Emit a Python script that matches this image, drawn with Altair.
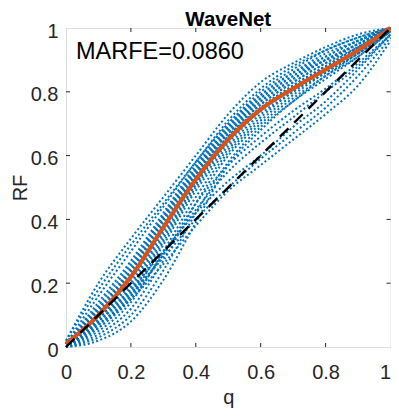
import altair as alt
import pandas as pd

# ---------------- data ----------------
q_grid = [0.0, 0.1, 0.2, 0.3, 0.4, 0.5, 0.6, 0.7, 0.8, 0.9, 1.0]

blue_curves = [
    [0.02, 0.20, 0.34, 0.47, 0.60, 0.73, 0.83, 0.89, 0.94, 0.98, 1.00],
    [0.02, 0.18, 0.32, 0.45, 0.58, 0.71, 0.81, 0.88, 0.93, 0.97, 1.00],
    [0.01, 0.16, 0.30, 0.44, 0.58, 0.70, 0.80, 0.87, 0.93, 0.97, 1.00],
    [0.01, 0.14, 0.27, 0.42, 0.57, 0.70, 0.79, 0.86, 0.92, 0.96, 1.00],
    [0.01, 0.13, 0.26, 0.41, 0.56, 0.69, 0.79, 0.86, 0.91, 0.96, 1.00],
    [0.01, 0.12, 0.25, 0.41, 0.56, 0.69, 0.78, 0.85, 0.91, 0.96, 1.00],
    [0.01, 0.12, 0.24, 0.40, 0.55, 0.68, 0.78, 0.85, 0.90, 0.95, 1.00],
    [0.01, 0.11, 0.24, 0.40, 0.55, 0.68, 0.77, 0.84, 0.90, 0.95, 1.00],
    [0.01, 0.11, 0.23, 0.39, 0.54, 0.67, 0.77, 0.84, 0.90, 0.95, 1.00],
    [0.01, 0.10, 0.22, 0.38, 0.54, 0.67, 0.76, 0.83, 0.89, 0.95, 1.00],
    [0.01, 0.10, 0.22, 0.38, 0.53, 0.66, 0.76, 0.83, 0.89, 0.94, 1.00],
    [0.00, 0.09, 0.21, 0.37, 0.53, 0.66, 0.75, 0.82, 0.88, 0.94, 1.00],
    [0.00, 0.09, 0.20, 0.36, 0.52, 0.65, 0.75, 0.82, 0.88, 0.94, 1.00],
    [0.00, 0.08, 0.19, 0.35, 0.51, 0.65, 0.74, 0.81, 0.88, 0.93, 0.99],
    [0.00, 0.08, 0.18, 0.34, 0.51, 0.64, 0.74, 0.81, 0.87, 0.93, 0.99],
    [0.00, 0.07, 0.17, 0.33, 0.50, 0.63, 0.73, 0.80, 0.87, 0.93, 0.99],
    [0.00, 0.06, 0.16, 0.32, 0.49, 0.62, 0.72, 0.80, 0.86, 0.92, 0.99],
    [0.00, 0.05, 0.14, 0.30, 0.47, 0.61, 0.71, 0.79, 0.86, 0.92, 0.99],
    [0.00, 0.04, 0.12, 0.27, 0.45, 0.60, 0.70, 0.78, 0.85, 0.92, 0.99],
    [0.00, 0.03, 0.10, 0.24, 0.42, 0.58, 0.69, 0.77, 0.85, 0.91, 0.99],
    [0.00, 0.02, 0.08, 0.21, 0.39, 0.57, 0.68, 0.77, 0.84, 0.91, 0.99],
    [0.00, 0.06, 0.15, 0.29, 0.45, 0.57, 0.66, 0.74, 0.81, 0.89, 0.98],
    [0.00, 0.07, 0.16, 0.29, 0.43, 0.55, 0.64, 0.72, 0.80, 0.88, 0.98],
    [0.00, 0.09, 0.18, 0.30, 0.42, 0.52, 0.60, 0.69, 0.77, 0.87, 0.98],
    [0.00, 0.08, 0.17, 0.28, 0.40, 0.50, 0.59, 0.67, 0.75, 0.85, 0.97],
    [0.00, 0.07, 0.15, 0.26, 0.38, 0.49, 0.57, 0.65, 0.73, 0.82, 0.96],
]

mean_rf = [0.01, 0.10, 0.22, 0.375, 0.525, 0.65, 0.745, 0.81, 0.87, 0.93, 1.00]

diag_q = [0.0, 1.0]
diag_rf = [0.0, 1.0]

axis_ticks = [0, 0.2, 0.4, 0.6, 0.8, 1]
inner_ticks = [0.2, 0.4, 0.6, 0.8]

title_text = "WaveNet"
x_title = "q"
y_title = "RF"
annot_text = "MARFE=0.0860"

# ---------------- tables ----------------
blue_df = pd.DataFrame(
    [{"curve": i, "q": q, "rf": r} for i, c in enumerate(blue_curves) for q, r in zip(q_grid, c)]
)
mean_df = pd.DataFrame({"q": q_grid, "rf": mean_rf})
diag_df = pd.DataFrame({"q": diag_q, "rf": diag_rf})
tick_df = pd.DataFrame({"v": inner_ticks})

W, H = 324.5, 319
FONT = "Liberation Sans"
AX = "#262626"

xs = alt.Scale(domain=[0, 1], nice=False, zero=False)
ys = alt.Scale(domain=[0, 1], nice=False, zero=False)

x_axis = alt.Axis(
    values=axis_ticks, format="~g", title=x_title, grid=False, domain=False,
    ticks=False, tickSize=0, labelPadding=31, labelBaseline="alphabetic",
    labelAlign=alt.ExprRef(expr="datum.value == 1 ? 'right' : 'center'"),
    labelFont=FONT, labelFontSize=20, labelColor=AX,
    titleFont=FONT, titleFontSize=20, titleFontWeight="normal", titleColor=AX,
    titleX=W / 2, titleY=56, titleBaseline="alphabetic", titleAlign="center",
)
y_axis = alt.Axis(
    values=axis_ticks, format="~g", title=y_title, grid=False, domain=False,
    ticks=False, tickSize=0, labelPadding=8, labelBaseline="alphabetic", labelOffset=9,
    labelFont=FONT, labelFontSize=20, labelColor=AX,
    titleFont=FONT, titleFontSize=20, titleFontWeight="normal", titleColor=AX,
    titleX=-39.5, titleY=H / 2, titleAngle=270, titleBaseline="alphabetic", titleAlign="center",
)


def X(field):
    return alt.X(field, scale=xs, axis=x_axis, title=x_title)


def Y(field):
    return alt.Y(field, scale=ys, axis=y_axis, title=y_title)


blue = alt.Chart(blue_df).mark_line(
    color="#0072BD", strokeWidth=2, strokeDash=[2, 2.4], interpolate="monotone"
).encode(x=X("q:Q"), y=Y("rf:Q"), detail="curve:N")

mean_line = alt.Chart(mean_df).mark_line(
    color="#D95319", strokeWidth=4.2, interpolate="monotone"
).encode(x=X("q:Q"), y=Y("rf:Q"))

diag = alt.Chart(diag_df).mark_line(
    color="black", strokeWidth=2.4, strokeDash=[12, 8]
).encode(x=X("q:Q"), y=Y("rf:Q"))

tick_style = dict(color=AX, strokeWidth=1)
t_bottom = alt.Chart(tick_df).mark_rule(**tick_style).encode(
    x=X("v:Q"), y=alt.value(H), y2=alt.value(H - 4))
t_top = alt.Chart(tick_df).mark_rule(**tick_style).encode(
    x=X("v:Q"), y=alt.value(0), y2=alt.value(4))
t_left = alt.Chart(tick_df).mark_rule(**tick_style).encode(
    y=Y("v:Q"), x=alt.value(0), x2=alt.value(4))
t_right = alt.Chart(tick_df).mark_rule(**tick_style).encode(
    y=Y("v:Q"), x=alt.value(W), x2=alt.value(W - 4))

annot = alt.Chart(pd.DataFrame({"t": [annot_text]})).mark_text(
    align="left", baseline="alphabetic", font=FONT, fontSize=23.5, color="black"
).encode(x=alt.value(10), y=alt.value(31), text="t:N")

title_mark = alt.Chart(pd.DataFrame({"t": [title_text]})).mark_text(
    align="center", baseline="alphabetic", font=FONT, fontSize=20.5,
    fontWeight="bold", color="black"
).encode(x=alt.value(W / 2), y=alt.value(-2), text="t:N")

chart = alt.layer(
    blue, mean_line, diag, t_bottom, t_top, t_left, t_right, annot, title_mark
).properties(
    width=W, height=H,
    padding={"left": 58, "top": 20, "right": 0.5, "bottom": 61},
    autosize=alt.AutoSizeParams(type="none"),
).configure_view(
    stroke=AX, strokeWidth=1
).configure(background="white")

chart.save("out.html", embed_options={"renderer": "svg", "actions": False})
